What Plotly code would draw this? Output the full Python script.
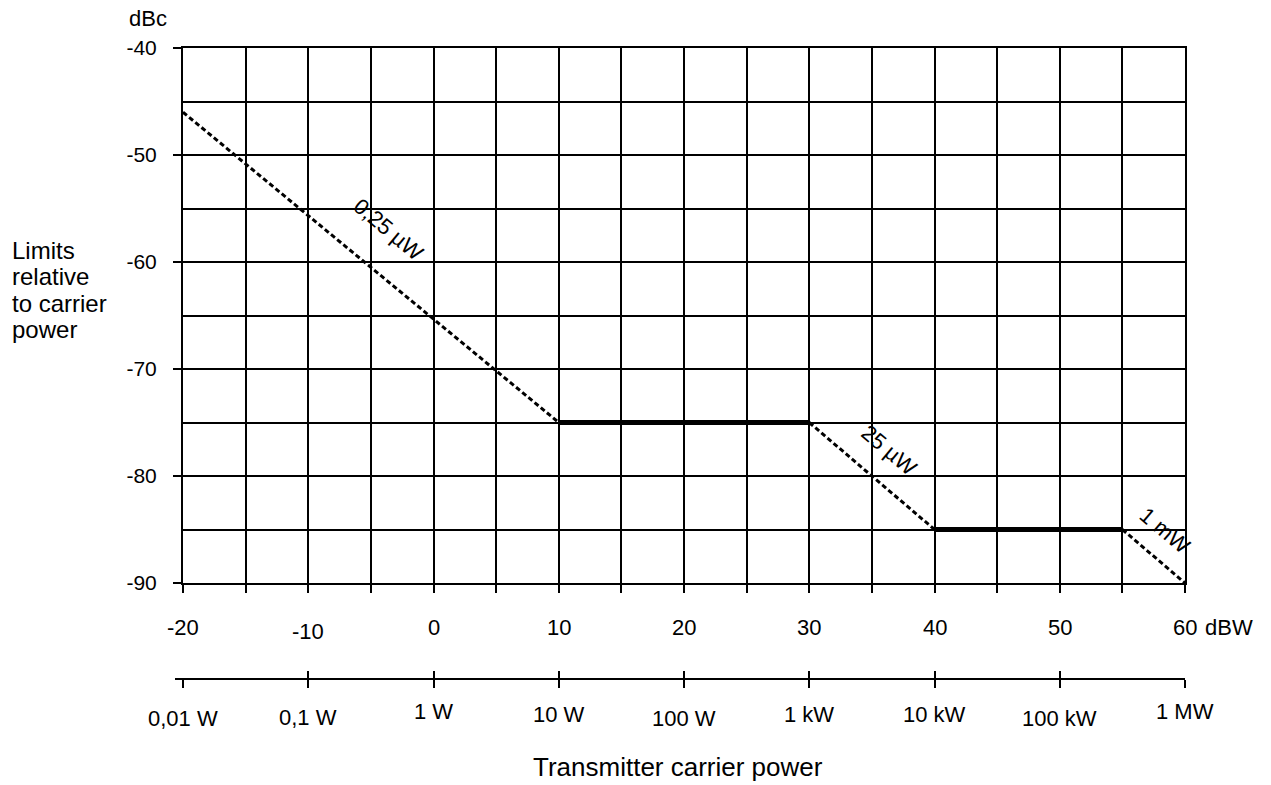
import plotly.graph_objects as go

# ---- data ----
limit_x = [-20, 10, 30, 40, 55, 60]
limit_y = [-46, -75, -75, -85, -85, -90]
segment_styles = ["dash", "solid", "dash", "solid", "dash"]

dbw_ticks = [-20, -10, 0, 10, 20, 30, 40, 50, 60]
dbw_labels = ["-20", "-10", "0", "10", "20", "30", "40", "50", "60"]
watt_labels = ["0,01 W", "0,1 W", "1 W", "10 W", "100 W", "1 kW", "10 kW", "100 kW", "1 MW"]
y_ticks = [-90, -80, -70, -60, -50, -40]
y_labels = ["-90", "-80", "-70", "-60", "-50", "-40"]

line_labels = ["0,25 µW", "25 µW", "1 mW"]
line_label_x = [-3.6, 36.4, 58.4]
line_label_y = [-57.0, -77.6, -85.1]

ylabel_lines = ["Limits", "relative", "to carrier", "power"]

# ---- styles ----
dbw_dy = [0, 4, 0, 0, 0, 0, 0, 0, 0]
watt_dy = [7, 6, 0, 3, 7, 3, 3, 7, 0]
FONT = "Liberation Sans, Arial, sans-serif"
FS = 22
GW = 2

W, H = 1271, 785
ML, MR, MT, MB = 183, 86, 48, 106
plot_w = W - ML - MR
plot_h = H - MT - MB
y0_dom = 96 / plot_h
stub = 8

fig = go.Figure()

for i, style in enumerate(segment_styles):
    fig.add_trace(go.Scatter(
        x=limit_x[i:i + 2], y=limit_y[i:i + 2], mode="lines",
        line=dict(color="black", width=3 if style == "dash" else 5,
                  dash="5px,3px" if style == "dash" else "solid"),
        showlegend=False, hoverinfo="skip", cliponaxis=False))

# invisible traces to activate the secondary power axis
for ax in ["x2", "x3"]:
    fig.add_trace(go.Scatter(x=dbw_ticks, y=[limit_y[0]] * len(dbw_ticks), xaxis=ax, yaxis="y",
                             mode="markers", marker=dict(opacity=0), showlegend=False,
                             hoverinfo="skip"))

grid = dict(showgrid=True, gridcolor="black", gridwidth=GW)
rng = [limit_x[0], limit_x[-1]]

fig.update_layout(
    width=W, height=H,
    margin=dict(l=ML, r=MR, t=MT, b=MB),
    paper_bgcolor="white", plot_bgcolor="white",
    font=dict(family=FONT, size=FS, color="black"),
    xaxis=dict(domain=[0, 1], range=rng, tickvals=dbw_ticks,
               showticklabels=False, ticks="outside", ticklen=8, tickwidth=GW, tickcolor="black",
               showline=True, linecolor="black", linewidth=GW, mirror=True, zeroline=False,
               minor=dict(dtick=5, ticks="outside", ticklen=8, tickwidth=GW, tickcolor="black",
                          showgrid=True, gridcolor="black", gridwidth=GW),
               **grid),
    yaxis=dict(domain=[y0_dom, 1], range=[-90, -40], tickvals=y_ticks, ticktext=y_labels,
               ticks="outside", ticklen=8, tickwidth=GW, tickcolor="black",
               showline=True, linecolor="black", linewidth=GW, mirror=True, zeroline=False,
               ticklabelstandoff=12, tickfont=dict(size=21),
               minor=dict(dtick=5, showgrid=True, gridcolor="black", gridwidth=GW),
               **grid),
    xaxis2=dict(range=rng, overlaying="x", anchor="free", position=0, side="bottom",
                tickvals=dbw_ticks, showticklabels=False, ticks="outside", ticklen=8,
                tickwidth=GW, tickcolor="black", showline=True, linecolor="black",
                linewidth=GW, showgrid=False, zeroline=False),
    xaxis3=dict(range=rng, overlaying="x", anchor="free", position=0, side="bottom",
                tickvals=dbw_ticks, showticklabels=False, ticks="inside", ticklen=8,
                tickwidth=GW, tickcolor="black", showline=False, showgrid=False,
                zeroline=False),
)

# small left stub of the power axis line
fig.add_shape(type="line", xref="paper", yref="paper", x0=-stub / plot_w, x1=0, y0=0, y1=0,
              line=dict(color="black", width=GW))


def px_to_paper(px, py):
    return (px - ML) / plot_w, (H - MB - py) / plot_h


ann = []
for v, t, dy in zip(dbw_ticks, dbw_labels, dbw_dy):
    ann.append(dict(x=v, y=y0_dom, xref="x", yref="paper", text=t, showarrow=False,
                    xanchor="center", yanchor="middle", yshift=-44 - dy))
ann.append(dict(x=limit_x[-1], y=y0_dom, xref="x", yref="paper", text="dBW", showarrow=False,
                xanchor="left", yanchor="middle", yshift=-44, xshift=18))
for v, t, dy in zip(dbw_ticks, watt_labels, watt_dy):
    ann.append(dict(x=v, y=0, xref="x", yref="paper", text=t, showarrow=False,
                    xanchor="center", yanchor="middle", yshift=-32 - dy))
for t, x, y in zip(line_labels, line_label_x, line_label_y):
    ann.append(dict(x=x, y=y, xref="x", yref="y", text=t, showarrow=False, textangle=40,
                    xanchor="center", yanchor="middle"))
bx, by = px_to_paper(148, 19)
ann.append(dict(x=bx, y=by, xref="paper", yref="paper", text="dBc", showarrow=False,
                xanchor="center", yanchor="middle"))
for k, t in enumerate(ylabel_lines):
    lx, ly = px_to_paper(10, 250 + 26.5 * k)
    ann.append(dict(x=lx, y=ly, xref="paper", yref="paper", xanchor="left", yanchor="middle",
                    showarrow=False, text=t, font=dict(size=24)))
tx, ty = px_to_paper(678, 767)
ann.append(dict(x=tx, y=ty, xref="paper", yref="paper", xanchor="center", yanchor="middle",
                showarrow=False, text="Transmitter carrier power", font=dict(size=26)))
fig.update_layout(annotations=ann)

fig.write_html("out.html", config={"displayModeBar": False},
               post_script="document.body.style.margin='0px';")
